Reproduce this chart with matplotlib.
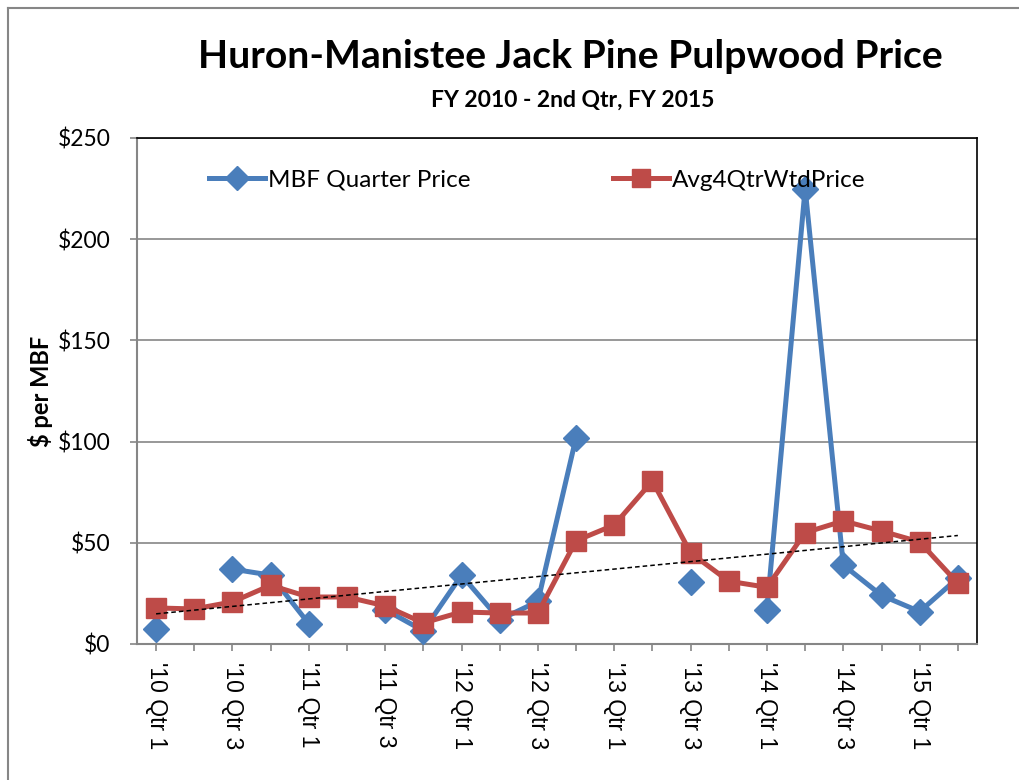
import numpy as np
import matplotlib
matplotlib.use("Agg")
import matplotlib.pyplot as plt
from matplotlib.lines import Line2D

# quarters '10 Qtr 1 .. '15 Qtr 2
quarters = [f"'{y} Qtr {q}" for y in range(10, 16) for q in range(1, 5)][:22]
mbf_price = [7.4, np.nan, 37, 34, 10, np.nan, 17, 6.5, 34, 12, 21, 102,
             np.nan, np.nan, 30.6, np.nan, 17, 225, 39, 24, 16, 32.6]
avg_price = [17.8, 17.3, 20.8, 29, 23.2, 23.2, 18.8, 10.4, 15.8, 15.3, 15.3, 51,
             58.8, 80.5, 45, 31, 28, 55, 60.8, 55.8, 50.4, 30]
yticks = [0, 50, 100, 150, 200, 250]

BLUE = "#4A7EBB"
RED = "#BE4B48"
TITLE_FONT = ["Lato", "DejaVu Sans"]
TICK_FONT = ["Liberation Sans", "DejaVu Sans"]

fig = plt.figure(figsize=(10.2, 7.8), dpi=100)
ax = fig.add_axes([0.1343, 0.1744, 0.8235, 0.6487])

x = np.arange(len(quarters))
ax.plot(x, mbf_price, color=BLUE, lw=3.6, marker="D", ms=13.5, mec=BLUE, mfc=BLUE,
        label="MBF Quarter Price", zorder=3)
ax.plot(x, avg_price, color=RED, lw=3.6, marker="s", ms=14, mec=RED, mfc=RED,
        label="Avg4QtrWtdPrice", zorder=4)

# linear trendline of the average price
k, b = np.polyfit(x, avg_price, 1)
ax.plot(x, k * x + b, color="black", lw=1.1, ls=(0, (3, 2)), zorder=5)

ax.set_xlim(-0.5, len(quarters) - 0.5)
ax.set_ylim(0, 250)
ax.set_yticks(yticks)
ax.set_yticklabels([f"${v}" for v in yticks], fontfamily=TITLE_FONT, fontsize=16.5)
ax.set_xticks(x)
ax.set_xticklabels([q if i % 2 == 0 else "" for i, q in enumerate(quarters)],
                   rotation=270, fontfamily=TICK_FONT, fontsize=16.5, va="top", ha="center")
ax.tick_params(axis="both", direction="out", length=5, color="#868686", width=1.2)
ax.tick_params(axis="x", pad=8)
ax.tick_params(axis="y", pad=14)
ax.grid(axis="y", color="#868686", lw=1.2)
ax.set_axisbelow(True)
for side in ["left", "bottom"]:
    ax.spines[side].set_color("#868686")
    ax.spines[side].set_linewidth(1.5)
for side in ["top", "right"]:
    ax.spines[side].set_color("black")
    ax.spines[side].set_linewidth(1.2)

ax.set_ylabel("$ per MBF", fontfamily=TITLE_FONT, fontsize=17, fontweight="bold")
ax.yaxis.set_label_coords(-0.1, 0.5)

leg = ax.legend(loc="upper left", bbox_to_anchor=(0.06, 0.98), ncol=2, frameon=False,
                prop={"family": TITLE_FONT, "size": 17.5}, handlelength=2.3,
                handletextpad=0.1, columnspacing=5.9, markerscale=0.9)

fig.text(0.559, 0.927, "Huron-Manistee Jack Pine Pulpwood Price", ha="center", va="center",
         fontfamily=TITLE_FONT, fontsize=28.2, fontweight="bold")
fig.text(0.561, 0.871, "FY 2010 - 2nd Qtr, FY 2015", ha="center", va="center",
         fontfamily=TITLE_FONT, fontsize=16.5, fontweight="bold")

# outer chart border (left and top visible)
fig.add_artist(Line2D([8 / 1020, 8 / 1020], [0, 1 - 8 / 780], color="#868686", lw=1.5))
fig.add_artist(Line2D([8 / 1020, 1], [1 - 8 / 780, 1 - 8 / 780], color="#868686", lw=1.5))

fig.savefig("out.png", dpi=100)
